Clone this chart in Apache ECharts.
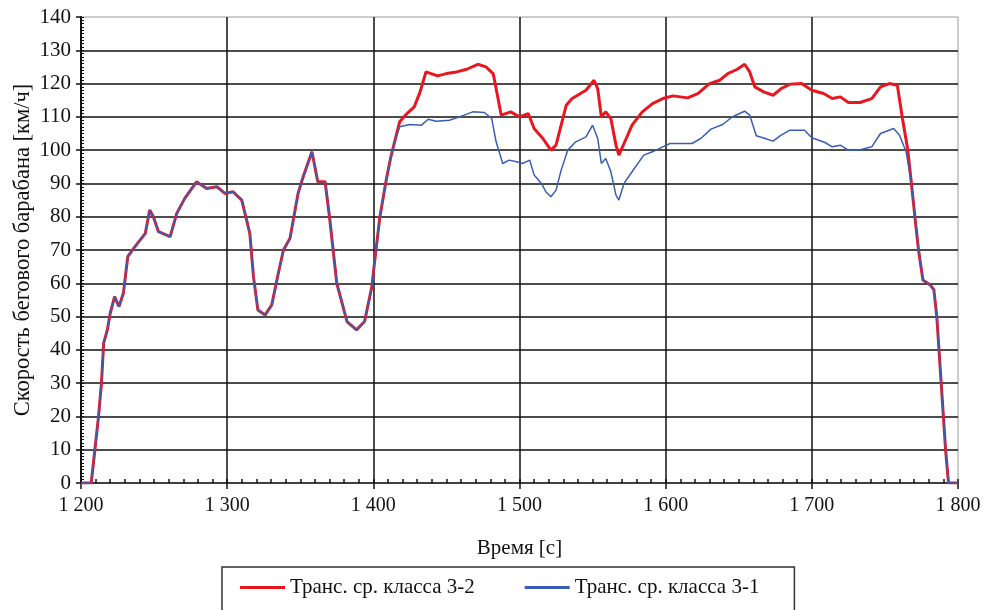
<!DOCTYPE html>
<html>
<head>
    <meta charset="utf-8" />
    <title>Скорость бегового барабана</title>
    <script src="https://cdn.jsdelivr.net/npm/echarts@6/dist/echarts.min.js"></script>
</head>
<body style="margin:0;background:#fff;">
    <div id="chart" style="width:995px;height:610px;"></div>
<script>
    // общий участок (обе кривые совпадают)
    var startT = [1200, 1207, 1209.5, 1212, 1214, 1215.5, 1218, 1220, 1223, 1226, 1229, 1232, 1236, 1244, 1247, 1249.5, 1253, 1261, 1265.5, 1271, 1279, 1286, 1293, 1298.5, 1304, 1310, 1315.5, 1318, 1321, 1326, 1330.5, 1335, 1338.5, 1343, 1348.5, 1352, 1358, 1362, 1367, 1370, 1375, 1382, 1388.5, 1394, 1399, 1401, 1404.5, 1409, 1412];
    var startV = [0, 0, 10, 20, 30, 42, 46, 51, 56, 53, 57, 68, 70.5, 75, 82, 80, 75.5, 74, 81, 85.5, 90.5, 88.5, 89, 87, 87.5, 85, 75, 62, 52, 50.5, 53.5, 63, 70, 73.5, 87, 92, 99.5, 90.5, 90.5, 80, 60, 48.5, 46, 48.5, 59, 67, 80, 91.5, 98];

    // класс 3-2
    var redT = [1414, 1418, 1423, 1428, 1432, 1436, 1444, 1450, 1457, 1464, 1471.5, 1477, 1482, 1484, 1487.5, 1494, 1500, 1506, 1510, 1516, 1521.5, 1525, 1532, 1536, 1545.5, 1551, 1553.5, 1556, 1559, 1562.5, 1566, 1568, 1573, 1577, 1584, 1591, 1598, 1605, 1615, 1622, 1630, 1637, 1642.5, 1649, 1654, 1657.5, 1661, 1667, 1673.5, 1679, 1685, 1693, 1700, 1708, 1714, 1719.5, 1725, 1733, 1741, 1747, 1753, 1758.5, 1762, 1765.5];
    var redV = [101.5, 108.5, 111, 113, 117.5, 123.5, 122.3, 123, 123.5, 124.3, 125.8, 125, 123, 118.5, 110.5, 111.5, 110, 111, 106.5, 103.5, 100, 101.5, 113.5, 115.5, 118, 121, 118.5, 110, 111.5, 109.5, 101.5, 98.5, 103.5, 107.5, 111.5, 114, 115.5, 116.3, 115.7, 117, 120, 121, 123, 124.3, 125.8, 123.5, 119, 117.5, 116.5, 118.5, 119.8, 120, 118, 117, 115.5, 116, 114.3, 114.3, 115.5, 119, 120, 119.5, 109.5, 100.5];

    // класс 3-1
    var blueT = [1414, 1418, 1425, 1433, 1437.5, 1443, 1452, 1459, 1468, 1476, 1481, 1484, 1488.5, 1493, 1498, 1502, 1507, 1510, 1515, 1518, 1521.5, 1525, 1528.5, 1533, 1538.5, 1545.5, 1550, 1553.5, 1556, 1559, 1562.5, 1566, 1568, 1571.5, 1577, 1585, 1591, 1598, 1603, 1618, 1624, 1631, 1639, 1645, 1649, 1654, 1657.5, 1662, 1668, 1673.5, 1679, 1685, 1695, 1700, 1709, 1714, 1719.5, 1725, 1732, 1741, 1747, 1756, 1760, 1764.5];
    var blueV = [101.5, 107, 107.7, 107.5, 109.3, 108.7, 109, 110, 111.5, 111.3, 109.5, 102.5, 96, 97, 96.5, 96, 97, 92.5, 90, 87.5, 86, 88, 94, 100, 102.5, 104, 107.5, 103.5, 96, 97.5, 93.5, 86.5, 85, 90, 93.5, 98.5, 99.5, 101, 102, 102, 103.5, 106.3, 107.7, 109.8, 110.7, 111.7, 110.5, 104.3, 103.5, 102.7, 104.5, 106, 106, 103.7, 102.3, 101, 101.5, 100, 100, 101, 105, 106.5, 104.5, 99.5];

    // общий спад
    var endT = [1768, 1770.5, 1773, 1776, 1781, 1783.5, 1785.5, 1787, 1788.5, 1790, 1791.5, 1793.5, 1800];
    var endV = [90.5, 80, 70, 61, 59.5, 58, 50, 40, 30, 20, 10, 0, 0];

    var xTicks = [1200, 1300, 1400, 1500, 1600, 1700, 1800];

    function pairs(t, v) {
        var out = [];
        for (var i = 0; i < t.length; i++) out.push([t[i], v[i]]);
        return out;
    }
    var redData = pairs(startT, startV).concat(pairs(redT, redV), pairs(endT, endV));
    var blueData = pairs(startT, startV).concat(pairs(blueT, blueV), pairs(endT, endV));

    var font = 'Liberation Serif';
    var myChart = echarts.init(document.getElementById('chart'));
    var option = {
        animation: false,
        backgroundColor: '#fff',
        textStyle: { fontFamily: font },
        grid: {
            left: 81, right: 37, top: 17, bottom: 127,
            outerBoundsMode: 'none',
            show: true, borderColor: '#9a9a9a', borderWidth: 1
        },
        legend: {
            left: 222, top: 567,
            padding: [10, 35, 30, 18],
            borderColor: '#333', borderWidth: 1.5,
            itemGap: 50,
            icon: 'rect', itemWidth: 45, itemHeight: 3,
            textStyle: { fontFamily: font, fontSize: 21, color: '#111' },
            data: ['Транс. ср. класса 3-2', 'Транс. ср. класса 3-1']
        },
        xAxis: [{
            type: 'value', min: xTicks[0], max: xTicks[xTicks.length - 1], interval: 100,
            position: 'bottom',
            name: 'Время [с]', nameLocation: 'middle', nameGap: 55,
            nameMoveOverlap: false,
            nameTextStyle: { fontFamily: font, fontSize: 21, color: '#111' },
            axisLine: { onZero: false, lineStyle: { color: '#111', width: 1.5 } },
            axisTick: { length: 6, lineStyle: { color: '#111', width: 1.5 } },
            axisLabel: {
                margin: 13, fontFamily: font, fontSize: 20, color: '#111',
                formatter: function (v) { return String(v).replace(/\B(?=(\d{3})+(?!\d))/g, ' '); }
            },
            splitLine: { show: true, showMinLine: false, showMaxLine: false, lineStyle: { color: '#111', width: 1.5 } }
        }, {
            type: 'value', min: 1200, max: 1800, interval: 10,
            position: 'bottom',
            axisLine: { show: false, onZero: false },
            axisTick: { inside: true, length: 4, lineStyle: { color: '#111', width: 1.5 } },
            axisLabel: { show: false },
            splitLine: { show: false }
        }],
        yAxis: [{
            type: 'value', min: 0, max: 140, interval: 10,
            position: 'left',
            name: 'Скорость бегового барабана [км/ч]', nameLocation: 'middle', nameGap: 46,
            nameMoveOverlap: false,
            nameTextStyle: { fontFamily: font, fontSize: 22.5, color: '#111' },
            axisLine: { show: true, onZero: false, lineStyle: { color: '#111', width: 2 } },
            axisTick: { show: true, length: 5, lineStyle: { color: '#111', width: 1.5 } },
            axisLabel: { margin: 10, fontFamily: font, fontSize: 21, color: '#111' },
            splitLine: { show: true, showMinLine: false, showMaxLine: false, lineStyle: { color: '#111', width: 1.5 } }
        }, {
            type: 'value', min: 0, max: 140, interval: 1,
            position: 'left',
            axisLine: { show: false, onZero: false },
            axisTick: { show: true, inside: true, length: 3, lineStyle: { color: '#111', width: 1 } },
            axisLabel: { show: false },
            splitLine: { show: false }
        }],
        series: [{
            name: 'Транс. ср. класса 3-2',
            type: 'line',
            data: redData,
            showSymbol: false,
            color: '#e8161f',
            lineStyle: { width: 3, color: '#e8161f' }
        }, {
            name: 'Транс. ср. класса 3-1',
            type: 'line',
            data: blueData,
            showSymbol: false,
            color: '#3a5db4',
            lineStyle: { width: 1.5, color: '#3a5db4' }
        }]
    };
    myChart.setOption(option);
</script>
</body>
</html>
